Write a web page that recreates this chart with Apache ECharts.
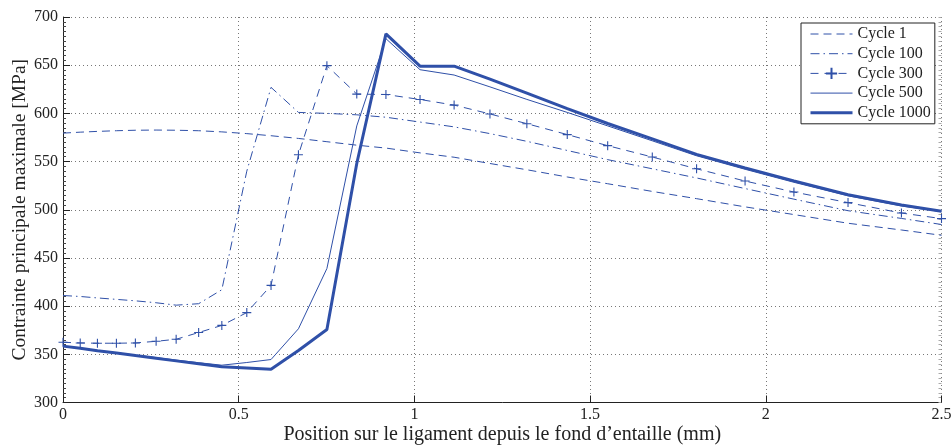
<!DOCTYPE html>
<html>
<head>
<meta charset="utf-8">
<script src="https://cdn.jsdelivr.net/npm/echarts@6/dist/echarts.min.js"></script>
<style>
html,body{margin:0;padding:0;background:#fff;}
#chart{width:952px;height:445px;}
</style>
</head>
<body>
<div id="chart"></div>
<script>
// Position along the ligament (mm) – mesh nodes
const positions = [0, 0.049, 0.098, 0.152, 0.206, 0.265, 0.322, 0.386, 0.452, 0.523, 0.592, 0.670, 0.751, 0.836, 0.919, 1.016, 1.113, 1.215, 1.320, 1.435, 1.550, 1.677, 1.803, 1.941, 2.080, 2.234, 2.386, 2.5];

const cycle1 = [579.5, 580.5, 581.3, 582, 582.5, 582.7, 582.5, 582, 580.8, 579, 576.8, 574, 570.6, 567, 564, 559, 554.5, 548, 541.5, 534, 527, 519, 511.5, 503, 495, 486, 479, 473.5];
const cycle100 = [411, 410, 408.5, 407, 405.5, 403.5, 401, 402.5, 417, 540, 627, 601, 600, 598.5, 596, 591, 586, 579, 571, 561.5, 552, 542.5, 533, 522, 511, 499, 491, 484.7];
const cycle300 = [362.5, 361.8, 361.5, 361.5, 361.8, 363.5, 365.6, 372.6, 380, 393.3, 421.5, 557, 649.5, 620, 619.6, 614.4, 608.6, 599.4, 589.3, 578, 566.5, 554.7, 542.5, 529.8, 518.4, 507.4, 496.6, 490.8];
const cycle500 = [358.5, 356.3, 354, 351.6, 349.2, 346.6, 344, 341.3, 338.7, 341.5, 344.6, 376.5, 439, 587, 677.5, 645.3, 639.8, 627.5, 614.5, 601, 587, 571.5, 556, 542, 528.5, 514.5, 504, 498];
const cycle1000 = [358.5, 356.2, 353.8, 351.3, 348.7, 345.9, 343.2, 340.1, 337, 335.8, 334.5, 354, 375.7, 548, 682.5, 649, 649, 635.5, 621, 605, 589.5, 573.5, 557.5, 543.5, 530, 515.5, 505, 498.5];

const seriesNames = ['Cycle 1', 'Cycle 100', 'Cycle 300', 'Cycle 500', 'Cycle 1000'];
const xTicks = [0, 0.5, 1, 1.5, 2, 2.5];
const yTicks = [300, 350, 400, 450, 500, 550, 600, 650, 700];

const blue = '#2f50a8';
const font = 'Liberation Serif';
const pair = arr => positions.map((x, i) => [x, arr[i]]);

const chart = echarts.init(document.getElementById('chart'), null, {renderer: 'canvas'});

const baseSeries = {type: 'line', showSymbol: false, symbol: 'none', animation: false, silent: true, smooth: false};
const hiddenIcon = {opacity: 0, color: 'rgba(0,0,0,0)', borderWidth: 0};

chart.setOption({
  animation: false,
  backgroundColor: '#fff',
  grid: {left: 63, right: 10.5, top: 17, bottom: 42.5, containLabel: false, outerBoundsMode: 'none'},
  legend: {
    orient: 'vertical',
    left: 801, top: 23,
    backgroundColor: '#fff',
    borderColor: '#222', borderWidth: 1, borderRadius: 0,
    padding: [3, 4, 3, 8],
    itemGap: 3.7,
    itemWidth: 42, itemHeight: 14,
    textStyle: {fontFamily: font, fontSize: 16, color: '#222', lineHeight: 16},
    data: [
      {name: seriesNames[0], itemStyle: hiddenIcon, lineStyle: {width: 1, type: [8, 5], color: blue}},
      {name: seriesNames[1], itemStyle: hiddenIcon, lineStyle: {width: 1, type: [9, 4, 1.5, 4], color: blue}},
      {name: seriesNames[2], lineStyle: {width: 1, type: [8, 6], color: blue}},
      {name: seriesNames[3], itemStyle: hiddenIcon, lineStyle: {width: 1, type: 'solid', color: blue}},
      {name: seriesNames[4], itemStyle: hiddenIcon, lineStyle: {width: 3, type: 'solid', color: blue}}
    ]
  },
  xAxis: {
    type: 'value', min: xTicks[0], max: xTicks[xTicks.length - 1], interval: 0.5,
    name: 'Position sur le ligament depuis le fond d\u2019entaille (mm)',
    nameLocation: 'middle', nameGap: 22, nameMoveOverlap: false,
    nameTextStyle: {fontFamily: font, fontSize: 20, color: '#222'},
    axisLine: {show: true, lineStyle: {color: '#222', width: 1}},
    axisTick: {show: true, inside: true, length: 7, lineStyle: {color: '#222'}},
    axisLabel: {fontFamily: font, fontSize: 16, color: '#222', margin: 4},
    splitLine: {show: true, lineStyle: {color: '#777', type: [1, 3], width: 1}}
  },
  yAxis: [{
    type: 'value', min: yTicks[0], max: yTicks[yTicks.length - 1], interval: 50,
    name: 'Contrainte principale maximale [MPa]',
    nameLocation: 'middle', nameGap: 33, nameMoveOverlap: false,
    nameTextStyle: {fontFamily: font, fontSize: 19.5, color: '#222'},
    axisLine: {show: true, lineStyle: {color: '#222', width: 1}},
    axisTick: {show: true, inside: true, length: 7, lineStyle: {color: '#222'}},
    minorTick: {show: true, splitNumber: 10, length: 3, lineStyle: {color: '#444'}},
    axisLabel: {fontFamily: font, fontSize: 16, color: '#222', margin: 5},
    splitLine: {show: true, lineStyle: {color: '#777', type: [1, 3], width: 1}}
  }, {
    type: 'value', position: 'right', min: yTicks[0], max: yTicks[yTicks.length - 1], interval: 50,
    axisLine: {show: false},
    axisTick: {show: true, inside: true, length: 3, lineStyle: {color: '#aaa'}},
    minorTick: {show: true, splitNumber: 10, length: 3, lineStyle: {color: '#aaa'}},
    axisLabel: {show: false},
    splitLine: {show: false}
  }],
  series: [
    Object.assign({}, baseSeries, {
      name: seriesNames[0], data: pair(cycle1), color: blue,
      lineStyle: {color: blue, width: 1, type: [8, 5]}
    }),
    Object.assign({}, baseSeries, {
      name: seriesNames[1], data: pair(cycle100), color: blue,
      lineStyle: {color: blue, width: 1, type: [9, 4, 1.5, 4]}
    }),
    Object.assign({}, baseSeries, {
      name: seriesNames[2], data: pair(cycle300), color: blue,
      showSymbol: true,
      symbol: 'path://M0,5L10,5M5,0L5,10', symbolSize: 9,
      itemStyle: {color: 'rgba(0,0,0,0)', borderColor: blue, borderWidth: 1.1},
      lineStyle: {color: blue, width: 1, type: [8, 6]}
    }),
    Object.assign({}, baseSeries, {
      name: seriesNames[3], data: pair(cycle500), color: blue,
      lineStyle: {color: blue, width: 1}
    }),
    Object.assign({}, baseSeries, {
      name: seriesNames[4], data: pair(cycle1000), color: blue,
      lineStyle: {color: blue, width: 3}
    })
  ]
});
</script>
</body>
</html>
